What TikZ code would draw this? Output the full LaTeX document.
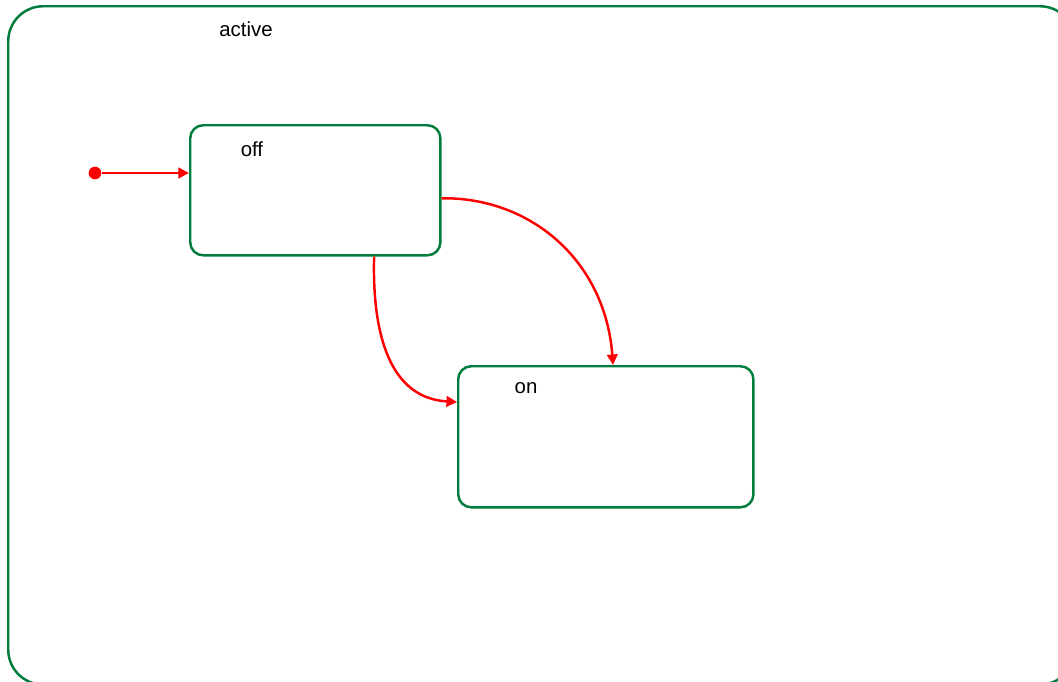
\documentclass[tikz,border=0pt]{standalone}
\usepackage{fontspec}
\setmainfont{Liberation Sans}
\usetikzlibrary{arrows.meta}
\definecolor{stategreen}{RGB}{0,125,60}
\begin{document}
\begin{tikzpicture}[
    x=0.01cm, y=-0.01cm,
    % Define styles
    state/.style={
        rectangle,
        draw=stategreen,
        line width=0.7pt,
        rounded corners=0.13cm,
        anchor=north west,
        inner sep=0pt
    },
    statename/.style={
        font=\fontsize{5.8}{7}\selectfont,
        inner sep=0pt
    },
    trans/.style={
        -{Triangle[length=3pt,width=3pt]},
        draw=red,
        line width=0.7pt
    },
    initdot/.style={
        circle,
        fill=red,
        minimum size=3.6pt,
        inner sep=0pt
    }
]

% Variables
\def\offx{189}
\def\offy{124}
\def\onx{457}
\def\ony{365}

\useasboundingbox (0,0) rectangle (1058,681);

% Outer state, runs past the page on the right and bottom
\node[state, rounded corners=0.35cm, minimum width=10.66cm, minimum height=6.78cm] (active) at (7,5) {};
\node[statename] (activelbl) at (246,29) {active};

% Inner states
\node[state, minimum width=2.5cm, minimum height=1.3cm] (off) at (\offx,\offy) {};
\node[statename] (offlbl) at (252,149) {off};

\node[state, minimum width=2.95cm, minimum height=1.41cm] (on) at (\onx,\ony) {};
\node[statename] (onlbl) at (526,388) {on};

% Initial pseudo state
\node[initdot] (init) at (95,173) {};
\coordinate (offin) at (init -| off.west);

% Transitions
\coordinate (offright) at ([yshift=-0.08cm]off.east);
\coordinate (ontop) at ([xshift=1.56cm]on.north west);
\coordinate (offbottom) at ([xshift=1.85cm]off.south west);
\coordinate (onleft) at ([yshift=-0.37cm]on.north west);

\draw[trans] (init) -- (offin);
\draw[trans] (offright) .. controls (530,197) and (605,260) .. (ontop);
\draw[trans] (offbottom) .. controls (372,335) and (390,398) .. (onleft);

\end{tikzpicture}
\end{document}
